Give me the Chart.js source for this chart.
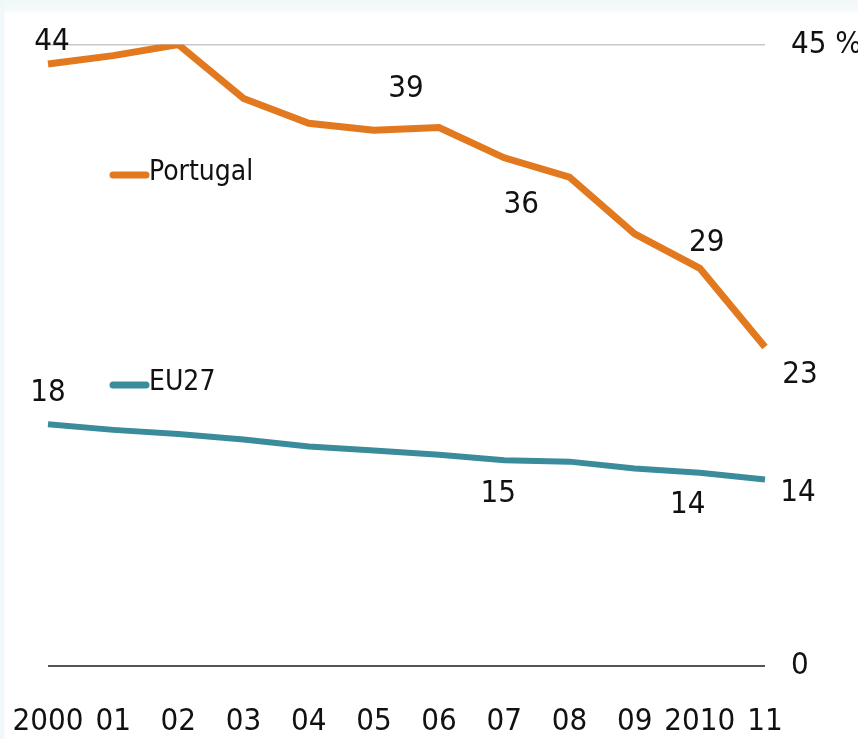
<!DOCTYPE html>
<html>
<head>
<meta charset="utf-8">
<script src="https://cdn.jsdelivr.net/npm/chart.js@4"></script>
<style>
  body { margin: 0; background: #fff; }
  #wrap {
    width: 858px; height: 739px;
    background:
      linear-gradient(to right, #f1f8f9 0, #f1f8f9 4px, rgba(255,255,255,0) 5px),
      linear-gradient(to bottom, #f1f8f9 0, #f6fbfb 12px, #fff 13px);
  }
</style>
</head>
<body>
<div id="wrap"><canvas id="chart" width="858" height="739"></canvas></div>
<script>
// data
var years = ['2000', '01', '02', '03', '04', '05', '06', '07', '08', '09', '2010', '11'];
var portugal = [43.6, 44.2, 45.0, 41.1, 39.3, 38.8, 39.0, 36.8, 35.4, 31.3, 28.8, 23.1];
var eu27 = [17.5, 17.1, 16.8, 16.4, 15.9, 15.6, 15.3, 14.9, 14.8, 14.3, 14.0, 13.5];
var portugalLabels = [44, null, null, null, null, 39, null, 36, null, null, 29, 23];
var eu27Labels = [18, null, null, null, null, null, null, 15, null, null, 14, 14];
var yTicks = [0, 45];

var font = '"Liberation Sans Narrow", "DejaVu Sans Condensed", sans-serif';
var fontSize = 31;
var orange = '#E2791F';
var teal = '#3A8B9C';

// where the value labels sit relative to their point
var labelOffsets = {
    0: { 0: [4, -22], 5: [32, -41], 7: [17, 47], 10: [7, -25], 11: [35, 28] },
    1: { 0: [0, -31], 7: [-6, 34], 10: [-12, 32], 11: [33, 13] }
};

var extras = {
    id: 'extras',
    afterDatasetsDraw: function (chart) {
        var c = chart.ctx;
        var x = chart.scales.x;
        c.save();
        c.font = fontSize + 'px ' + font;
        c.fillStyle = '#111';
        c.textBaseline = 'middle';
        c.textAlign = 'center';

        // value labels
        [portugalLabels, eu27Labels].forEach(function (lbls, di) {
            var meta = chart.getDatasetMeta(di);
            lbls.forEach(function (v, i) {
                if (v === null) return;
                var off = labelOffsets[di][i];
                var p = meta.data[i];
                c.fillText(String(v), p.x + off[0], p.y + off[1]);
            });
        });

        // category labels under the axis
        years.forEach(function (y, i) {
            c.fillText(y, x.getPixelForValue(i), 722);
        });

        // legend
        c.font = '28px ' + font;
        var items = [['Portugal', orange, 175], ['EU27', teal, 385]];
        items.forEach(function (it) {
            c.strokeStyle = it[1];
            c.lineWidth = 7;
            c.lineCap = 'round';
            c.beginPath();
            c.moveTo(113, it[2]);
            c.lineTo(146, it[2]);
            c.stroke();
            c.textAlign = 'left';
            c.fillText(it[0], 149, it[2] - 2);
        });
        c.restore();
    }
};

var ctx = document.getElementById('chart').getContext('2d');
var chart = new Chart(ctx, {
    type: 'line',
    data: {
        labels: years,
        datasets: [{
            label: 'Portugal',
            data: portugal,
            borderColor: orange,
            borderWidth: 7,
            pointRadius: 0,
            fill: false,
            tension: 0
        }, {
            label: 'EU27',
            data: eu27,
            borderColor: teal,
            borderWidth: 6,
            pointRadius: 0,
            fill: false,
            tension: 0
        }]
    },
    options: {
        responsive: false,
        animation: false,
        layout: { padding: { left: 48, top: 41, bottom: 73, right: 0 } },
        plugins: {
            legend: { display: false },
            tooltip: { enabled: false }
        },
        scales: {
            x: {
                display: false,
                offset: false
            },
            y: {
                position: 'right',
                min: 0,
                max: 45,
                afterBuildTicks: function (scale) {
                    scale.ticks = yTicks.map(function (v) { return { value: v }; });
                },
                afterFit: function (scale) { scale.width = 93; },
                border: { display: false },
                grid: {
                    drawTicks: false,
                    color: function (c) { return c.tick.value === 0 ? '#555' : '#c8c8c8'; },
                    lineWidth: function (c) { return c.tick.value === 0 ? 2 : 1.5; }
                },
                ticks: {
                    padding: 26,
                    color: '#111',
                    font: { family: font, size: fontSize },
                    callback: function (v) { return v === 45 ? '45 %' : String(v); }
                }
            }
        }
    },
    plugins: [extras]
});
</script>
</body>
</html>
